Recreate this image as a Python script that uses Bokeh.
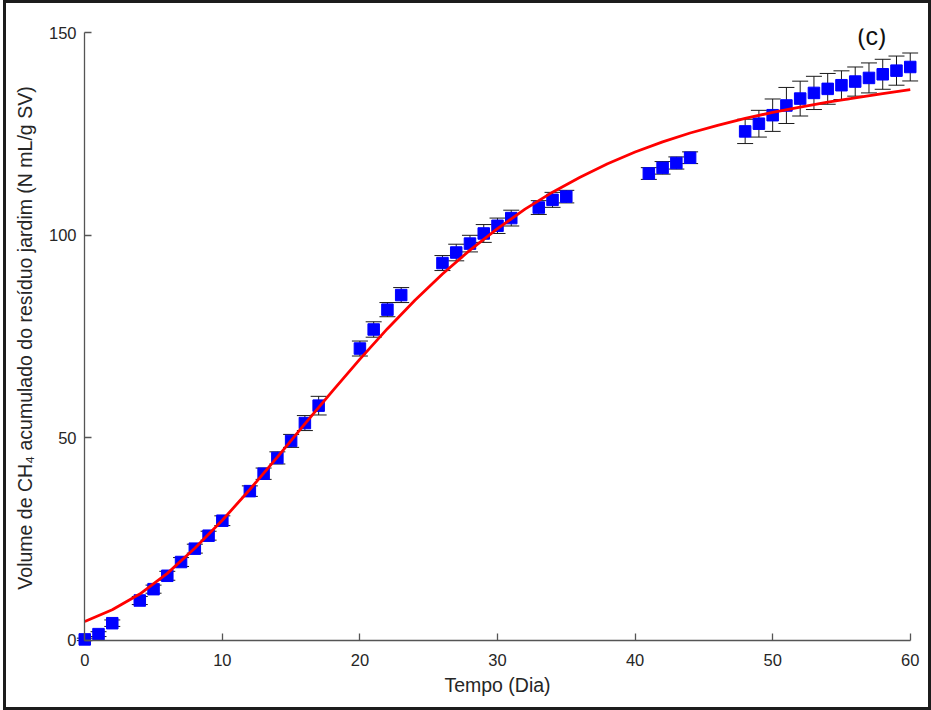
from bokeh.plotting import figure
from bokeh.models import (ColumnDataSource, Whisker, TeeHead, FixedTicker, Label, Range1d,
                          LinearAxis, CustomLabelingPolicy)
from bokeh.embed import file_html
from bokeh.resources import INLINE

# Accumulated CH4 volume from garden waste (mean of replicates and deviation)
dias = [0, 1, 2, 4, 5, 6, 7, 8, 9, 10, 12, 13, 14, 15, 16, 17, 20, 21, 22, 23,
        26, 27, 28, 29, 30, 31, 33, 34, 35, 41, 42, 43, 44,
        48, 49, 50, 51, 52, 53, 54, 55, 56, 57, 58, 59, 60]
metano = [0.2, 1.5, 4.2, 9.8, 12.6, 15.9, 19.3, 22.6, 25.8, 29.5, 36.8, 41.1, 45.0, 49.2, 53.6, 57.9,
          72.0, 76.7, 81.6, 85.2, 93.1, 95.7, 97.9, 100.4, 102.3, 104.2, 106.8, 108.7, 109.5,
          115.2, 116.6, 117.8, 119.1, 125.6, 127.5, 129.6, 132.0, 133.7, 135.1, 136.1, 137.0,
          137.9, 138.8, 139.7, 140.6, 141.5]
desvio = [0.3, 0.6, 0.8, 1.0, 1.0, 1.1, 1.1, 1.1, 1.1, 1.2, 1.3, 1.4, 1.5, 1.6, 1.85, 2.3,
          1.85, 1.9, 1.75, 1.85, 1.85, 2.05, 2.05, 2.2, 1.9, 1.95, 1.7, 1.85, 1.55,
          1.45, 1.55, 1.5, 1.45, 3.0, 3.3, 4.0, 4.45, 4.3, 4.1, 3.8, 3.55,
          3.6, 3.7, 3.7, 3.6, 3.45]

# Fitted kinetic curve
curva_dias = [0, 2, 4, 6, 8, 10, 12, 14, 16, 18, 20, 22, 24, 26, 28, 30,
              32, 34, 36, 38, 40, 42, 44, 46, 48, 50, 52, 54, 56, 58, 60]
curva_ajuste = [4.6, 7.5, 11.4, 16.5, 22.7, 29.6, 37.2, 45.2, 53.4, 61.5, 69.4, 76.9, 83.9, 90.4,
                96.3, 101.6, 106.4, 110.6, 114.3, 117.6, 120.5, 123.0, 125.2, 127.1, 128.8,
                130.3, 131.6, 132.8, 133.9, 134.9, 135.9]

x_ticks = [0, 10, 20, 30, 40, 50, 60]
y_ticks = [0, 50, 100, 150]

FONT = "Liberation Sans"
INK = "#262626"
AXIS = "#555555"

src = ColumnDataSource(dict(
    x=dias, y=metano,
    lo=[m - d for m, d in zip(metano, desvio)],
    hi=[m + d for m, d in zip(metano, desvio)],
))

p = figure(width=928, height=710,
           x_range=Range1d(-0.6, 60.6), y_range=Range1d(-1.8, 151),
           output_backend="svg", toolbar_location=None,
           min_border_left=70, min_border_right=16,
           min_border_top=25, min_border_bottom=66)
p.styles = {"border": "3px solid #1c1c1c", "margin-left": "3px"}
p.grid.visible = False
p.outline_line_color = None
p.background_fill_color = "white"
p.border_fill_color = "white"

# frame-edge axes carry only the tick labels and titles
for ax in (p.xaxis[0], p.yaxis[0]):
    ax.axis_line_color = None
    ax.major_tick_line_color = None
    ax.minor_tick_line_color = None
    ax.major_tick_in = 0
    ax.major_tick_out = 0
    ax.major_label_text_font = FONT
    ax.major_label_text_font_size = "16.5px"
    ax.major_label_text_color = INK
    ax.axis_label_text_font = FONT
    ax.axis_label_text_font_size = "19.5px"
    ax.axis_label_text_font_style = "normal"
    ax.axis_label_text_color = INK

p.xaxis.ticker = FixedTicker(ticks=x_ticks)
p.yaxis.ticker = FixedTicker(ticks=y_ticks)
p.xaxis.major_label_standoff = 6
p.yaxis.major_label_standoff = 0
p.xaxis.axis_label = "Tempo (Dia)"
p.yaxis.axis_label = "Volume de CH\u2084 acumulado do resíduo jardim (N mL/g SV)"
p.xaxis.axis_label_standoff = 5
p.yaxis.axis_label_standoff = 10

# no labels on the zero-line axes (the frame-edge axes show them)
no_labels = CustomLabelingPolicy(code="""
    const n = indices.size
    for (let i = 0; i < n; i++) indices.unset(i)
    return indices
""")

# axis lines and inward ticks sitting on the zero lines
def zero_axis(ticks, bounds):
    return LinearAxis(fixed_location=0, bounds=bounds, ticker=FixedTicker(ticks=ticks),
                      axis_line_color=AXIS, axis_line_width=1.3,
                      major_tick_line_color=AXIS, major_tick_line_width=1.3,
                      major_tick_in=7, major_tick_out=0,
                      minor_tick_line_color=None,
                      major_label_policy=no_labels, major_label_standoff=0)

p.add_layout(zero_axis(x_ticks, (0, 60)), "below")
p.add_layout(zero_axis(y_ticks, (0, 150)), "left")

# error bars beneath the markers
err = Whisker(source=src, base="x", lower="lo", upper="hi", dimension="height",
              line_color="#1a1a1a", line_width=1,
              upper_head=TeeHead(size=16, line_color="#1a1a1a", line_width=1),
              lower_head=TeeHead(size=16, line_color="#1a1a1a", line_width=1),
              level="underlay")
p.add_layout(err)

p.scatter("x", "y", source=src, marker="square", size=11.5,
          fill_color="#0000ff", line_color="#0000ff")

p.line(curva_dias, curva_ajuste, line_color="#ff0000", line_width=2.8)

p.add_layout(Label(x=57.2, y=149.1, text="(c)", text_font=FONT, text_font_size="25px",
                   text_color="#111111", text_align="center", text_baseline="middle"))

open("out.html", "w").write(file_html(p, INLINE))
